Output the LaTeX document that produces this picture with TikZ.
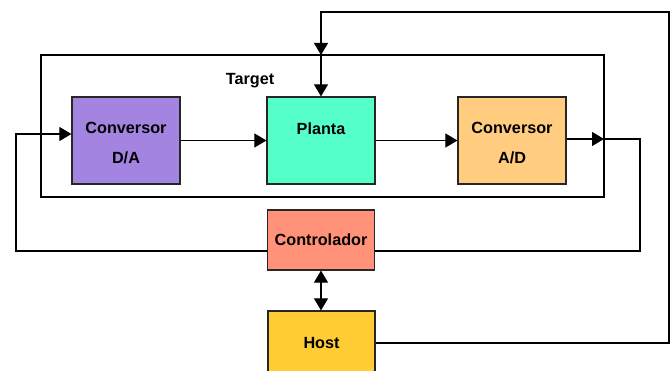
\documentclass[tikz,border=0pt]{standalone}
\usepackage{fontspec}
\setmainfont{Liberation Sans}
\usetikzlibrary{arrows.meta,calc}
\definecolor{daCol}{HTML}{A384E0}
\definecolor{plCol}{HTML}{55FFC8}
\definecolor{adCol}{HTML}{FFCC80}
\definecolor{ctCol}{HTML}{FF9278}
\definecolor{hsCol}{HTML}{FFCC33}
\begin{document}
\begin{tikzpicture}[x=1pt,y=-1pt,
  lbl/.style={font=\fontsize{16.2}{30}\selectfont\bfseries,align=center,inner sep=0pt},
  block/.style={draw=black!85,line width=1.2pt,rectangle,lbl},
  conv/.style={draw=black!85,line width=1.2pt,rectangle,minimum width=108pt,minimum height=87pt},
  link/.style={line width=1.1pt},
  tip/.style={-{Triangle[length=12pt,width=14pt]}},
  bothtip/.style={{Triangle[length=12pt,width=14pt]}-{Triangle[length=12pt,width=14pt]}}]
\useasboundingbox (0,0) rectangle (671,371);
\clip (0,0) rectangle (671,371);
% target frame
\draw[line width=1.1pt] (41,55) rectangle (604,197);
\coordinate (tgtTop) at (321,55);
\coordinate (tgtRight) at (604,139);
\node[lbl] (tgtLabel) at (250,81) {Target};
% blocks inside the target
\node[conv,fill=daCol,label={[lbl,yshift=-3pt]center:Conversor\\D/A}] (da) at (126,140.5) {};
\node[conv,fill=plCol,label={[lbl,yshift=12pt]center:Planta}] (planta) at (321,140.5) {};
\node[conv,fill=adCol,label={[lbl,yshift=-3pt]center:Conversor\\A/D}] (ad) at (512,140.5) {};
% controller and host
\node[block,fill=ctCol,minimum width=107pt,minimum height=60pt] (ctrl) at (321,240) {Controlador};
\node[block,fill=hsCol,minimum width=107pt,minimum height=64pt] (host) at (321.5,343) {Host};
% signal path inside target
\draw[link,tip] (da.east) -- (planta.west);
\draw[link,tip] (planta.east) -- (ad.west);
% A/D output back to the controller
\draw[link,tip] (ad.east |- tgtRight) -- (tgtRight);
\draw[link] (tgtRight) -- (640,139) -- (640,251) -- ($(ctrl.east)+(0,11)$);
% controller to D/A
\draw[link,tip] ($(ctrl.west)+(0,11)$) -- (16,251) -- (16,134) -- (da.west |- 0,134);
% host to controller
\draw[link,bothtip] (ctrl.south) -- (ctrl.south |- host.north);
% host to plant
\draw[link,tip] (host.east) -- (669,343) -- (669,12) -- (321,12) -- (tgtTop);
\draw[link,tip] (tgtTop) -- (planta.north);
\end{tikzpicture}
\end{document}
